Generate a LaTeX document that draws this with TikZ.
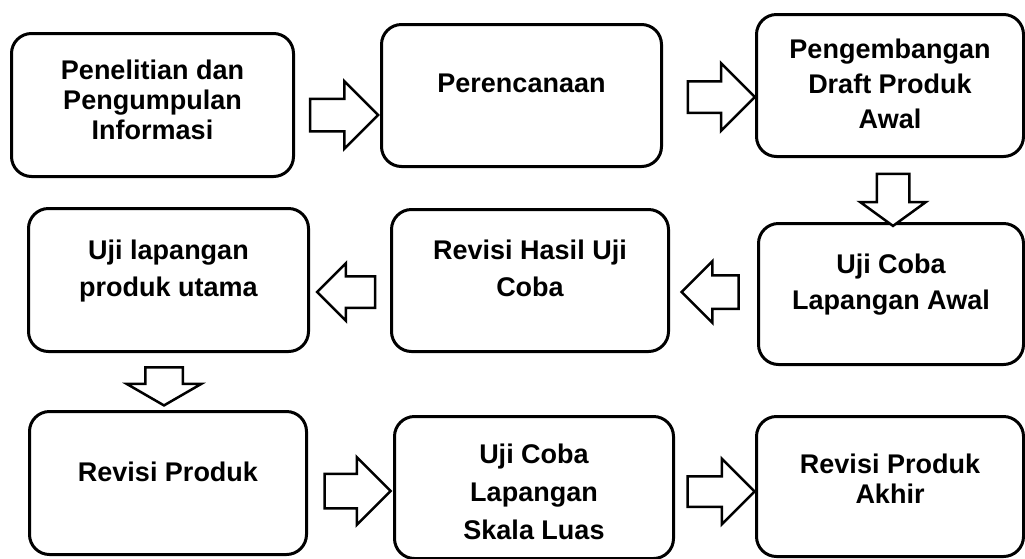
\documentclass[tikz,border=0pt]{standalone}
\usepackage{fontspec}
\setmainfont{Liberation Sans}
\usetikzlibrary{shapes.arrows}

% box text: width, height, top gap, lines
\newcommand{\stagetext}[4]{\parbox[c][#2pt][t]{#1pt}{\centering\vspace*{#3pt}#4}}

\tikzset{
    stage/.style={draw, line width=3pt, rounded corners=20pt, inner sep=0pt, anchor=north west,
        font=\bfseries\fontsize{27}{37}\selectfont},
    tight/.style={font=\bfseries\fontsize{27}{30}\selectfont},
    flow/.style={single arrow, draw, line width=2.5pt, fill=white, inner sep=0pt,
        single arrow head indent=0pt, single arrow head extend=#1},
    flow/.default=17.5pt
}

\begin{document}
\begin{tikzpicture}[x=1pt, y=-1pt]

        \useasboundingbox (0,0) rectangle (1025,558);

        % Row 1
        \node[stage, tight] (n1) at (10,32) {\stagetext{282}{143}{26}{Penelitian dan\\Pengumpulan\\Informasi}};
        \node[stage] (n2) at (380,23) {\stagetext{280}{142}{49}{Perencanaan}};
        \node[stage, font=\bfseries\fontsize{27}{35}\selectfont] (n3) at (755,13) {\stagetext{267}{142}{24}{Pengembangan\\Draft Produk\\Awal}};

        % Row 2
        \node[stage] (n4) at (27,207) {\stagetext{280}{143}{31}{Uji lapangan\\produk utama}};
        \node[stage] (n5) at (390,208) {\stagetext{277}{142}{30}{Revisi Hasil Uji\\Coba}};
        \node[stage, font=\bfseries\fontsize{27}{36}\selectfont] (n6) at (757,222) {\stagetext{265}{141}{30}{Uji Coba\\Lapangan Awal}};

        % Row 3
        \node[stage] (n7) at (28,410) {\stagetext{277}{143}{50}{Revisi Produk}};
        \node[stage, font=\bfseries\fontsize{27}{38}\selectfont] (n8) at (393,415) {\stagetext{279}{142}{27}{Uji Coba\\Lapangan\\Skala Luas}};
        \node[stage, tight] (n9) at (755,415) {\stagetext{267}{140}{37}{Revisi Produk\\Akhir}};

        % Block arrows
        \node[flow, minimum height=68pt] (a12) at (336,115) {\rule{0pt}{30pt}};
        \node[flow=18pt, minimum height=67pt] (a23) at (713.5,97) {\rule{0pt}{29pt}};
        \node[flow=16.5pt, minimum height=52pt, single arrow tip angle=108, rotate=-90] (a36) at (893,194) {\rule{0pt}{30pt}};
        \node[flow=14pt, minimum height=57pt, rotate=180] (a65) at (718.5,292) {\rule{0pt}{31pt}};
        \node[flow=13pt, minimum height=58pt, rotate=180] (a54) at (354,292) {\rule{0pt}{29pt}};
        \node[flow=18.5pt, minimum height=38pt, single arrow tip angle=120, rotate=-90] (a47) at (164,381) {\rule{0pt}{35pt}};
        \node[flow=16.5pt, minimum height=66pt] (a78) at (349,491) {\rule{0pt}{32pt}};
        \node[flow, minimum height=67pt] (a89) at (713.5,491.5) {\rule{0pt}{28pt}};

\end{tikzpicture}
\end{document}
